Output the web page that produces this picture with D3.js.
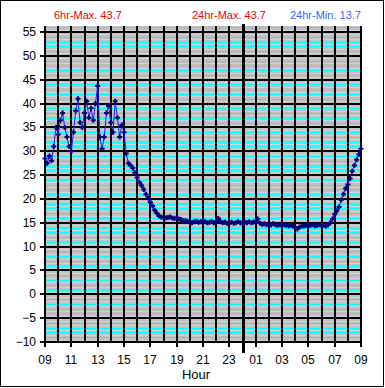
<!DOCTYPE HTML>
<html>
<head>
<meta charset="utf-8">
<script src="https://d3js.org/d3.v7.min.js"></script>
<style>
  body { margin: 0; background: #fff; }
  text { font-family: "Liberation Sans", Arial, sans-serif; }
</style>
</head>
<body>
<svg width="385" height="388"></svg>
<script>
// temperature readings, every 10 minutes from 09:00 to 09:00 next day
var temps = [
  28.5, 27.5, 29.0, 28.0, 31.0, 35.0, 33.5, 36.5, 38.0, 35.0,
  33.0, 31.0, 30.0, 34.0, 38.5, 41.0, 36.0, 35.0, 38.0, 40.5,
  37.0, 39.0, 36.5, 40.0, 43.7, 33.0, 30.5, 33.0, 38.0, 39.5,
  36.0, 34.0, 40.5, 37.0, 33.0, 35.5, 34.0, 29.5, 27.5, 27.0,
  26.5, 25.5, 24.5, 23.5, 22.8, 22.0, 21.0, 20.2, 19.3, 18.5,
  17.6, 17.0, 16.4, 16.2, 16.1, 16.0, 16.1, 16.2, 16.0, 15.9,
  16.0, 15.8, 15.7, 15.5, 15.4, 15.3, 15.1, 15.0, 15.2, 15.3,
  15.1, 15.2, 15.4, 15.2, 15.0, 15.1, 15.2, 15.0, 15.3, 15.9,
  15.2, 15.0, 15.1, 14.9, 15.0, 15.1, 14.9, 15.0, 15.2, 15.0,
  14.9, 15.1, 15.0, 15.2, 15.0, 15.1, 15.3, 15.8, 14.9, 14.7,
  14.8, 14.6, 14.7, 14.6, 14.8, 14.6, 14.5, 14.6, 14.5, 14.6,
  14.5, 14.4, 14.5, 14.3, 14.0, 13.7, 14.1, 14.3, 14.4, 14.5,
  14.4, 14.5, 14.6, 14.4, 14.5, 14.6, 14.4, 14.5, 14.3, 14.6,
  15.0, 15.8, 16.8, 17.5, 18.3, 19.8, 21.0, 22.2, 23.0, 24.3,
  25.8, 27.0, 28.2, 29.3, 30.5
];
var stepHours = 10 / 60;

var hourLabels = ["09", "11", "13", "15", "17", "19", "21", "23", "01", "03", "05", "07", "09"];
var yTicks = [-10, -5, 0, 5, 10, 15, 20, 25, 30, 35, 40, 45, 50, 55];
var midnight = 15; // hours after 09:00

var headers = [
  { text: "6hr-Max. 43.7", x: 54, color: "#ee0000" },
  { text: "24hr-Max. 43.7", x: 192, color: "#ee0000" },
  { text: "24hr-Min. 13.7", x: 290, color: "#3366ff" }
];

var svg = d3.select("svg");

var x = d3.scaleLinear().domain([0, 24]).range([45, 361]);
var y = d3.scaleLinear().domain([-10, 55]).range([342, 32]);
var plotTop = 26;

function px(v) { return Math.round(v) + 0.5; }
function px2(v) { return Math.round(v); }

// outer frame
svg.append("rect")
   .attr("x", 0.5).attr("y", 0.5)
   .attr("width", 383).attr("height", 386)
   .attr("fill", "#fff").attr("stroke", "#000");

// plot background
svg.append("rect")
   .attr("x", x(0)).attr("y", plotTop)
   .attr("width", x(24) - x(0)).attr("height", y(-10) - plotTop)
   .attr("fill", "#c0c0c0");

var grid = svg.append("g");

// minor horizontal lines
var minor = d3.range(-10, 56.01, 0.5).filter(function(v) { return v % 5 !== 0; });
grid.selectAll(".minor")
    .data(minor)
    .enter().append("line")
    .attr("x1", x(0)).attr("x2", x(24))
    .attr("y1", function(d) { return px(y(d)); })
    .attr("y2", function(d) { return px(y(d)); })
    .attr("stroke", function(d) { return d % 1 === 0 ? "#00ffff" : "#d0d0dc"; })
    .attr("stroke-width", 1);

// major horizontal lines
grid.selectAll(".hmajor")
    .data(yTicks)
    .enter().append("line")
    .attr("x1", x(0)).attr("x2", x(24))
    .attr("y1", function(d) { return px2(y(d)); })
    .attr("y2", function(d) { return px2(y(d)); })
    .attr("stroke", "#000").attr("stroke-width", 2);

// hourly vertical lines
grid.selectAll(".vmajor")
    .data(d3.range(0, 25))
    .enter().append("line")
    .attr("x1", function(d) { return px2(x(d)); })
    .attr("x2", function(d) { return px2(x(d)); })
    .attr("y1", plotTop).attr("y2", y(-10))
    .attr("stroke", "#000").attr("stroke-width", 2);

// axes
var yAxis = d3.axisLeft(y).tickValues(yTicks).tickSize(5).tickPadding(4);
var gy = svg.append("g").attr("transform", "translate(" + px2(x(0)) + ",0)").call(yAxis);
gy.select(".domain").attr("stroke", "#000").attr("stroke-width", 2).attr("d", "M0," + plotTop + "V" + y(-10));
gy.selectAll(".tick").attr("transform", function(d) { return "translate(0," + px2(y(d)) + ")"; });
gy.selectAll(".tick line").attr("stroke-width", 2);
gy.selectAll(".tick text").attr("font-size", 12).attr("fill", "#000")
  .attr("font-family", "Liberation Sans, Arial, sans-serif");

var xAxis = d3.axisBottom(x).tickValues(d3.range(0, 25, 2))
              .tickFormat(function(d, i) { return hourLabels[i]; })
              .tickSize(5).tickPadding(8);
var gx = svg.append("g").attr("transform", "translate(0," + px2(y(-10)) + ")").call(xAxis);
gx.select(".domain").attr("stroke", "#000").attr("stroke-width", 2).attr("d", "M" + x(0) + ",0H" + x(24));
gx.selectAll(".tick").attr("transform", function(d) { return "translate(" + px2(x(d)) + ",0)"; });
gx.selectAll(".tick line").attr("stroke-width", 2);
gx.selectAll(".tick text").attr("font-size", 12).attr("fill", "#000")
  .attr("font-family", "Liberation Sans, Arial, sans-serif");

svg.append("text")
   .attr("x", 196).attr("y", 379)
   .attr("text-anchor", "middle")
   .attr("font-size", 13)
   .text("Hour");

// midnight marker
svg.append("line")
   .attr("x1", px(x(midnight))).attr("x2", px(x(midnight)))
   .attr("y1", 24).attr("y2", 353)
   .attr("stroke", "#000").attr("stroke-width", 3);

// series
var line = d3.line()
   .x(function(d, i) { return x(i * stepHours); })
   .y(function(d) { return y(d); });

svg.append("path")
   .datum(temps)
   .attr("d", line)
   .attr("fill", "none")
   .attr("stroke", "#2020e0")
   .attr("stroke-width", 1);

svg.selectAll(".pt")
   .data(temps)
   .enter().append("path")
   .attr("class", "pt")
   .attr("transform", function(d, i) { return "translate(" + x(i * stepHours) + "," + y(d) + ")"; })
   .attr("d", "M-2.5,0H2.5M0,-2.5V2.5")
   .attr("stroke", "#000080")
   .attr("stroke-width", 2);

// header texts
svg.selectAll(".hdr")
   .data(headers)
   .enter().append("text")
   .attr("x", function(d) { return d.x; })
   .attr("y", 19)
   .attr("font-size", 11)
   .attr("fill", function(d) { return d.color; })
   .text(function(d) { return d.text; });
</script>
</body>
</html>
